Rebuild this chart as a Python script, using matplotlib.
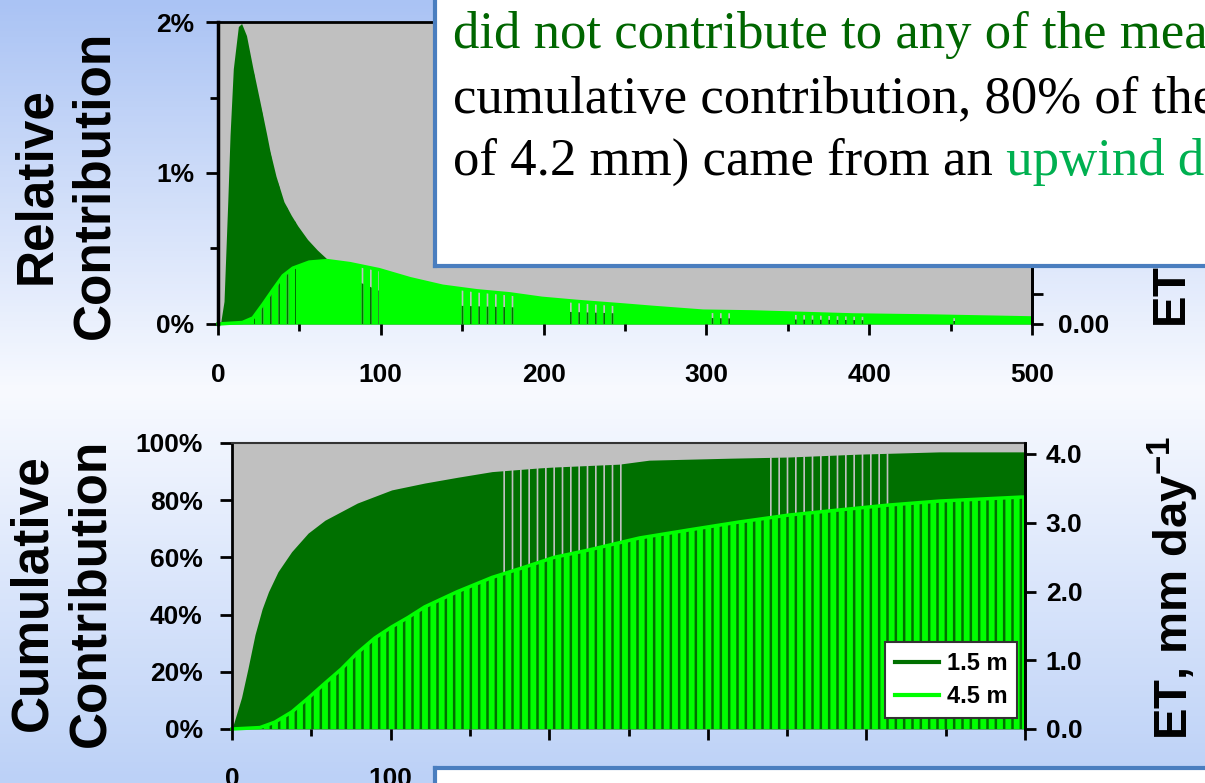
import matplotlib
matplotlib.use('Agg')
import matplotlib.pyplot as plt
import numpy as np
from matplotlib.lines import Line2D
from matplotlib.text import Annotation
from matplotlib.ticker import MultipleLocator, FuncFormatter, FormatStrFormatter
from matplotlib.colors import LinearSegmentedColormap

plt.rcParams['font.family'] = 'Liberation Sans'
plt.rcParams['font.weight'] = 'bold'
plt.rcParams['axes.labelweight'] = 'bold'
plt.rcParams['mathtext.fontset'] = 'custom'
plt.rcParams['mathtext.rm'] = 'Liberation Sans:bold'
plt.rcParams['mathtext.default'] = 'rm'
plt.rcParams['hatch.linewidth'] = 1.2

# footprint, relative contribution (%) vs upwind distance (m)
dist_rel_15 = [0, 1.5, 3.7, 6, 7.4, 9.4, 12.5, 14.5, 17.5, 21.5, 25.8, 30, 32, 35.6, 40.5, 45, 49,
               55, 61, 67, 84, 99, 150, 183, 216, 247, 300, 350, 400, 450, 500]
rel_15 = [0, 0, 0.15, 0.81, 1.25, 1.69, 1.97, 1.99, 1.91, 1.69, 1.47, 1.25, 1.14, 0.98, 0.81, 0.72, 0.65,
          0.56, 0.49, 0.43, 0.29, 0.22, 0.12, 0.11, 0.08, 0.07, 0.04, 0.03, 0.025, 0.02, 0.015]
dist_rel_45 = [0, 15, 21.5, 27.6, 34, 40, 46, 56, 67, 81, 99, 118, 138, 159, 179, 199, 220,
               250, 267, 298, 328, 353, 390, 437, 500]
rel_45 = [0, 0.01, 0.04, 0.13, 0.23, 0.32, 0.37, 0.41, 0.42, 0.40, 0.36, 0.30, 0.25, 0.22, 0.20,
          0.17, 0.15, 0.125, 0.11, 0.085, 0.08, 0.072, 0.06, 0.053, 0.04]

# cumulative contribution (%)
dist_cum_15 = [0, 6, 10, 14.5, 19, 23, 29, 37.6, 48, 58.6, 79, 100.7, 121.5, 142, 164, 194,
               203, 244, 263, 315, 351, 395, 446, 500]
cum_15 = [0, 11, 21, 33, 42, 48, 55, 62, 68.5, 73, 79, 83.6, 86, 88, 90, 91.3,
          91.6, 92.6, 94, 94.7, 95.1, 96.1, 96.9, 96.9]
dist_cum_45 = [0, 17.6, 27, 37.8, 48, 58.6, 69, 79, 90, 100.7, 111, 121.5, 142, 164, 184.5, 203,
               225, 257, 288, 320, 351, 383, 414, 446, 498, 500]
cum_45 = [0, 0.5, 2.4, 6, 10.8, 16, 21, 26.6, 31.8, 35.7, 39, 42.7, 48, 53, 56.6, 60,
          62.6, 66.8, 69.6, 72.4, 74.8, 76.6, 78.3, 79.7, 81.1, 81.1]

series_labels = ['1.5 m', '4.5 m']

# distance bands where the bar gaps show through
gaps_rel = [(22, 48), (84, 99), (148, 183), (216, 247), (300, 317), (354, 399), (449, 453)]
gaps_cum = [(167, 249), (337, 414)]

oscuro = '#007000'
claro = '#00ff00'
gris = '#c0c0c0'
azul = '#4a7ebf'
fondo = ['#aac3f4', '#f8faff', '#bcd1f7']

W, H = 1205, 783
fig = plt.figure(figsize=(W / 100, H / 100), dpi=100)

bg = fig.add_axes([0, 0, 1, 1], zorder=-5)
bg.imshow(np.linspace(0, 1, 256)[:, None], aspect='auto', extent=[0, 1, 0, 1],
          cmap=LinearSegmentedColormap.from_list('fondo', fondo))
bg.axis('off')


def estilo(ax):
    ax.set_xlim(0, 500)
    ax.xaxis.set_major_locator(MultipleLocator(100))
    ax.xaxis.set_minor_locator(MultipleLocator(50))
    ax.spines['bottom'].set_visible(False)
    for s in ['left', 'top', 'right']:
        ax.spines[s].set_linewidth(2)
    ax.tick_params(which='both', direction='out', width=2, labelsize=19, right=False)


# ---- relative contribution ----
ax1 = fig.add_axes([218 / W, 1 - 324 / H, (1032 - 218) / W, (324 - 22) / H])
ax1.set_facecolor(gris)
estilo(ax1)
ax1.spines['left'].set_linewidth(2.5)
ax1.set_ylim(0, 2.0)
f_dark = ax1.fill_between(dist_rel_15, 0, rel_15, color=oscuro, lw=0)
f_light = ax1.fill_between(dist_rel_45, 0, rel_45, color=claro, lw=0)
ax1.plot(dist_rel_45, rel_45, color=claro, lw=2.5, clip_on=False)
for a, b in gaps_rel:
    r = ax1.axvspan(a, b, facecolor='none', edgecolor=gris, hatch='||', lw=0)
    r.set_clip_path(f_light.get_paths()[0], ax1.transData)
for a, b in gaps_rel:
    r = ax1.axvspan(a, b, facecolor='none', edgecolor=oscuro, hatch='||', lw=0)
    r.set_clip_path(f_dark.get_paths()[0], ax1.transData)

ax1.yaxis.set_major_locator(MultipleLocator(1))
ax1.yaxis.set_minor_locator(MultipleLocator(0.5))
ax1.yaxis.set_major_formatter(FuncFormatter(lambda v, p: f'{v:.0f}%'))
ax1.tick_params(axis='y', which='major', length=9, pad=8)
ax1.tick_params(axis='y', which='minor', length=6)
ax1.tick_params(axis='x', which='major', length=8, pad=20)
ax1.tick_params(axis='x', which='minor', length=5)
ax1.set_ylabel('Relative\nContribution', fontsize=37, linespacing=1.25, va='center', ha='center')
ax1.yaxis.set_label_coords(-0.1867, 0.46)

ax1b = ax1.twinx()
ax1b.set_ylim(0, 0.2)
ax1b.yaxis.set_major_locator(MultipleLocator(0.1))
ax1b.yaxis.set_minor_locator(MultipleLocator(0.02))
ax1b.yaxis.set_major_formatter(FormatStrFormatter('%.2f'))
for s in ['left', 'top', 'bottom']:
    ax1b.spines[s].set_visible(False)
ax1b.spines['right'].set_linewidth(2)
ax1b.tick_params(which='both', direction='out', width=2, length=8, labelsize=19, pad=11)
ax1b.set_ylabel('ET, mm day$^{-1}$', fontsize=34, va='center', ha='center')
ax1b.yaxis.set_label_coords(1.173, 0.49)

# ---- cumulative contribution ----
ax2 = fig.add_axes([232 / W, 1 - 729 / H, (1025 - 232) / W, (729 - 443) / H])
ax2.set_facecolor(gris)
estilo(ax2)
ax2.spines['top'].set_linewidth(1.5)
ax2.spines['top'].set_color('#333333')
ax2.set_ylim(0, 100)
g_dark = ax2.fill_between(dist_cum_15, 0, cum_15, color=oscuro, lw=0)
for a, b in gaps_cum:
    r = ax2.axvspan(a, b, facecolor='none', edgecolor=gris, hatch='||', lw=0)
    r.set_clip_path(g_dark.get_paths()[0], ax2.transData)
with plt.rc_context({'hatch.linewidth': 1.8}):
    ax2.fill_between(dist_cum_45, 0, cum_45, facecolor=claro, edgecolor=oscuro, hatch='||', lw=0)
ax2.plot(dist_cum_45, cum_45, color=claro, lw=2.5, clip_on=False)

ax2.yaxis.set_major_locator(MultipleLocator(20))
ax2.yaxis.set_major_formatter(FuncFormatter(lambda v, p: f'{v:.0f}%'))
ax2.tick_params(axis='y', which='major', length=9, pad=12)
ax2.tick_params(axis='x', which='major', length=8, pad=19)
ax2.tick_params(axis='x', which='minor', length=5)
ax2.set_ylabel('Cumulative\nContribution', fontsize=37, linespacing=1.25, va='center', ha='center')
ax2.yaxis.set_label_coords(-0.2144, 0.4755)

ax2b = ax2.twinx()
ax2b.set_ylim(0, 4.16)
ax2b.yaxis.set_major_locator(MultipleLocator(1))
ax2b.yaxis.set_major_formatter(FormatStrFormatter('%.1f'))
for s in ['left', 'top', 'bottom']:
    ax2b.spines[s].set_visible(False)
ax2b.spines['right'].set_linewidth(2)
ax2b.tick_params(direction='out', width=2, length=8, labelsize=19, pad=7)
ax2b.set_ylabel('ET, mm day$^{-1}$', fontsize=34, va='center', ha='center')
ax2b.yaxis.set_label_coords(1.187, 0.493)

handles = [Line2D([], [], color=oscuro, lw=3), Line2D([], [], color=claro, lw=3)]
leg = ax2b.legend(handles, series_labels, loc='lower right', bbox_to_anchor=(0.99, 0.038),
                  fancybox=False, framealpha=1, edgecolor='#333333', borderaxespad=0,
                  prop=dict(family='Liberation Sans', weight='bold', size=17),
                  handlelength=1.9, handletextpad=0.3, labelspacing=0.42, borderpad=0.42)
leg.get_frame().set_linewidth(1.5)

# ---- text boxes ----
for rect in ([435 / W, 1 - 265.5 / H, 1, 0.5], [435 / W, -0.2, 1, 0.2 + 1 - 768 / H]):
    bx = fig.add_axes(rect, zorder=10)
    bx.set_xticks([])
    bx.set_yticks([])
    bx.set_facecolor('white')
    for s in bx.spines.values():
        s.set_color(azul)
        s.set_linewidth(3)

txt = dict(fontsize=38, family='Liberation Serif', fontweight='normal', va='baseline', zorder=11)
fig.text(453 / W, 1 - 48 / H, 'did not contribute to any of the measured', color='#006600', **txt)
fig.text(453 / W, 1 - 112 / H, 'cumulative contribution, 80% of the', color='black', **txt)
t3 = fig.text(453 / W, 1 - 175 / H, 'of 4.2 mm) came from an', color='black', **txt)
txt.pop('va')
a3 = Annotation(' upwind distance', xy=(1, 0), xycoords=t3, va='bottom', color='#00b050', **txt)
a3.set_figure(fig)
fig.texts.append(a3)

fig.savefig('out.png', dpi=100)
